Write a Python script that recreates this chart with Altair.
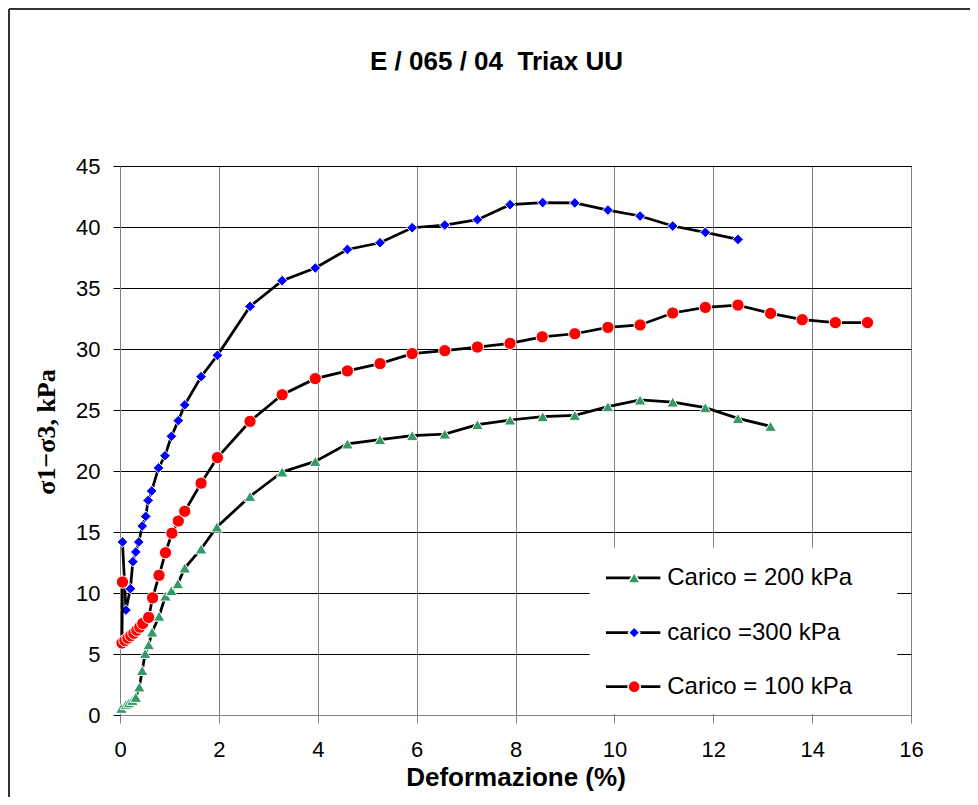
import altair as alt
import pandas as pd

# ---- data ----
# Carico = 200 kPa (green triangles)
x_200 = [0.03, 0.12, 0.18, 0.25, 0.32, 0.39, 0.45, 0.51, 0.58, 0.65, 0.79, 0.92, 1.04, 1.17, 1.31, 1.64, 1.96,
         2.63, 3.28, 3.95, 4.60, 5.26, 5.91, 6.57, 7.23, 7.89, 8.55, 9.20, 9.87, 10.52, 11.18, 11.84, 12.50, 13.16]
y_200 = [0.55, 0.85, 1.0, 1.2, 1.45, 2.3, 3.65, 5.05, 5.76, 6.8, 8.1, 9.75, 10.2, 10.76, 12.05, 13.61, 15.41,
         17.92, 19.92, 20.79, 22.22, 22.57, 22.9, 23.03, 23.8, 24.18, 24.45, 24.56, 25.27, 25.82, 25.65, 25.19, 24.31, 23.66]

# carico = 300 kPa (blue diamonds)
x_300 = [0.05, 0.12, 0.21, 0.26, 0.32, 0.38, 0.45, 0.52, 0.57, 0.64, 0.78, 0.91, 1.04, 1.18, 1.31, 1.64, 1.97,
         2.63, 3.28, 3.95, 4.60, 5.26, 5.91, 6.57, 7.23, 7.89, 8.55, 9.20, 9.87, 10.52, 11.18, 11.84, 12.50]
y_300 = [14.18, 8.6, 10.35, 12.57, 13.36, 14.18, 15.49, 16.28, 17.59, 18.36, 20.25, 21.25, 22.84, 24.13, 25.42, 27.73, 29.48,
         33.49, 35.6, 36.64, 38.16, 38.71, 39.94, 40.16, 40.6, 41.83, 42.0, 41.97, 41.39, 40.9, 40.08, 39.56, 38.98]

# Carico = 100 kPa (red circles)
x_100 = [0.05, 0.04, 0.10, 0.16, 0.22, 0.28, 0.34, 0.40, 0.46, 0.58, 0.66, 0.79, 0.92, 1.05, 1.18, 1.31, 1.64, 1.97,
         2.63, 3.28, 3.95, 4.60, 5.26, 5.91, 6.57, 7.23, 7.89, 8.54, 9.20, 9.87, 10.52, 11.18, 11.84, 12.50,
         13.16, 13.80, 14.47, 15.12]
y_100 = [10.9, 5.9, 6.1, 6.3, 6.5, 6.7, 6.95, 7.2, 7.5, 8.0, 9.6, 11.45, 13.3, 14.9, 15.9, 16.7, 19.0, 21.1,
         24.07, 26.25, 27.57, 28.2, 28.8, 29.62, 29.86, 30.16, 30.46, 31.0, 31.25, 31.77, 31.97, 32.95, 33.41, 33.6,
         32.92, 32.40, 32.16, 32.16]

series_labels = ["Carico = 200 kPa", "carico =300 kPa", "Carico = 100 kPa"]
series_colors = ["#339966", "#0000FF", "#FF0000"]
series_shapes = ["triangle-up", "diamond", "circle"]
series_sizes = [135, 115, 150]
legend_sizes = [150, 130, 150]

x_ticks = list(range(0, 17, 2))
y_ticks = list(range(0, 46, 5))

title_text = "E / 065 / 04 \u00a0Triax UU"
x_title = "Deformazione (%)"
y_title = "σ1−σ3, kPa"

# legend placement in data units (drawn through the chart scales)
legend_rows = [11.25, 6.75, 2.32]
legend_line = (9.83, 10.93)
legend_marker_x = 10.40
legend_text_x = 11.07
legend_box = (9.5, 15.72, 0.08, 13.7)

# ---- build ----
frames = []
for label, xs, ys in zip(series_labels, [x_200, x_300, x_100], [y_200, y_300, y_100]):
    frames.append(pd.DataFrame({"serie": label, "x": xs, "y": ys, "ord": list(range(len(xs)))}))
data = pd.concat(frames, ignore_index=True)

xscale = alt.Scale(domain=[0, 16], nice=False, zero=False)
yscale = alt.Scale(domain=[0, 45], nice=False)

xaxis = alt.Axis(values=x_ticks, format="d", title=x_title,
                 titleFont="Liberation Sans", titleFontSize=26, titleFontWeight="bold", titleColor="black",
                 titleY=70, titleBaseline="alphabetic",
                 labelFont="Liberation Sans", labelFontSize=22, labelColor="black", labelPadding=16,
                 labelFlush=False, labelOverlap=False,
                 tickSize=8, tickColor="#808080", domainColor="#808080",
                 gridColor="#808080", gridWidth=1, gridOpacity=1)
yaxis = alt.Axis(values=y_ticks, format="d", title=y_title,
                 titleFont="Liberation Serif", titleFontSize=26, titleFontWeight="bold", titleColor="black",
                 titleAngle=270, titleX=-66, titleY=265.5, titleBaseline="alphabetic", titleAlign="center",
                 labelFont="Liberation Sans", labelFontSize=22, labelColor="black", labelPadding=13,
                 labelFlush=False, labelOverlap=False,
                 tickSize=7, tickColor="black", domainColor="#808080",
                 gridColor="black", gridWidth=1, gridOpacity=1)

X = lambda f: alt.X(f, type="quantitative", scale=xscale, axis=xaxis)
Y = lambda f: alt.Y(f, type="quantitative", scale=yscale, axis=yaxis)

layers = []
for label, color, shape, size in zip(series_labels, series_colors, series_shapes, series_sizes):
    base = alt.Chart(data).transform_filter(alt.datum.serie == label)
    layers.append(base.mark_line(color="black", strokeWidth=2.75).encode(x=X("x"), y=Y("y"), order="ord:Q"))
    layers.append(base.mark_point(filled=True, shape=shape, size=size, color=color, stroke="white",
                                  strokeWidth=1, opacity=1).encode(x=X("x"), y=Y("y")))

# legend box (white, hides gridlines)
box = pd.DataFrame({"x1": [legend_box[0]], "x2": [legend_box[1]], "y1": [legend_box[2]], "y2": [legend_box[3]]})
layers.append(alt.Chart(box).mark_rect(fill="white", stroke=None).encode(
    x=X("x1"), x2="x2", y=Y("y1"), y2="y2"))

leg = pd.DataFrame({"serie": series_labels, "ly": legend_rows,
                    "lx1": [legend_line[0]] * 3, "lx2": [legend_line[1]] * 3,
                    "lxm": [legend_marker_x] * 3, "ltx": [legend_text_x] * 3})
layers.append(alt.Chart(leg).mark_rule(color="black", strokeWidth=2.75).encode(
    x=X("lx1"), x2="lx2", y=Y("ly")))
for label, color, shape, size in zip(series_labels, series_colors, series_shapes, legend_sizes):
    lb = alt.Chart(leg).transform_filter(alt.datum.serie == label)
    layers.append(lb.mark_point(filled=True, shape=shape, size=size, color=color, stroke="white",
                                strokeWidth=1.5, opacity=1).encode(x=X("lxm"), y=Y("ly")))
layers.append(alt.Chart(leg).mark_text(align="left", baseline="middle", font="Liberation Sans",
                                       fontSize=24, color="black").encode(x=X("ltx"), y=Y("ly"), text="serie:N"))

# chart title
tdf = pd.DataFrame({"t": [title_text]})
layers.append(alt.Chart(tdf).mark_text(font="Liberation Sans", fontSize=26, fontWeight="bold",
                                       align="center", baseline="alphabetic", color="black").encode(
    text="t:N", x=alt.value(376.5), y=alt.value(-96)))

# outer frame (top and left edges of the chart area)
fdf = pd.DataFrame({"a": [0]})
layers.append(alt.Chart(fdf).mark_rule(color="#333333", strokeWidth=2).encode(
    x=alt.value(-111), x2=alt.value(850), y=alt.value(-157)))
layers.append(alt.Chart(fdf).mark_rule(color="#333333", strokeWidth=2).encode(
    x=alt.value(-111), y=alt.value(-157), y2=alt.value(631)))

chart = alt.layer(*layers).properties(
    width=791, height=549,
    padding={"left": 112, "top": 158, "right": 59, "bottom": 82},
    autosize=alt.AutoSizeParams(type="none"),
    background="white",
).configure_view(stroke="black", strokeWidth=1)

chart.save("out.html", embed_options={"renderer": "svg", "actions": False})
